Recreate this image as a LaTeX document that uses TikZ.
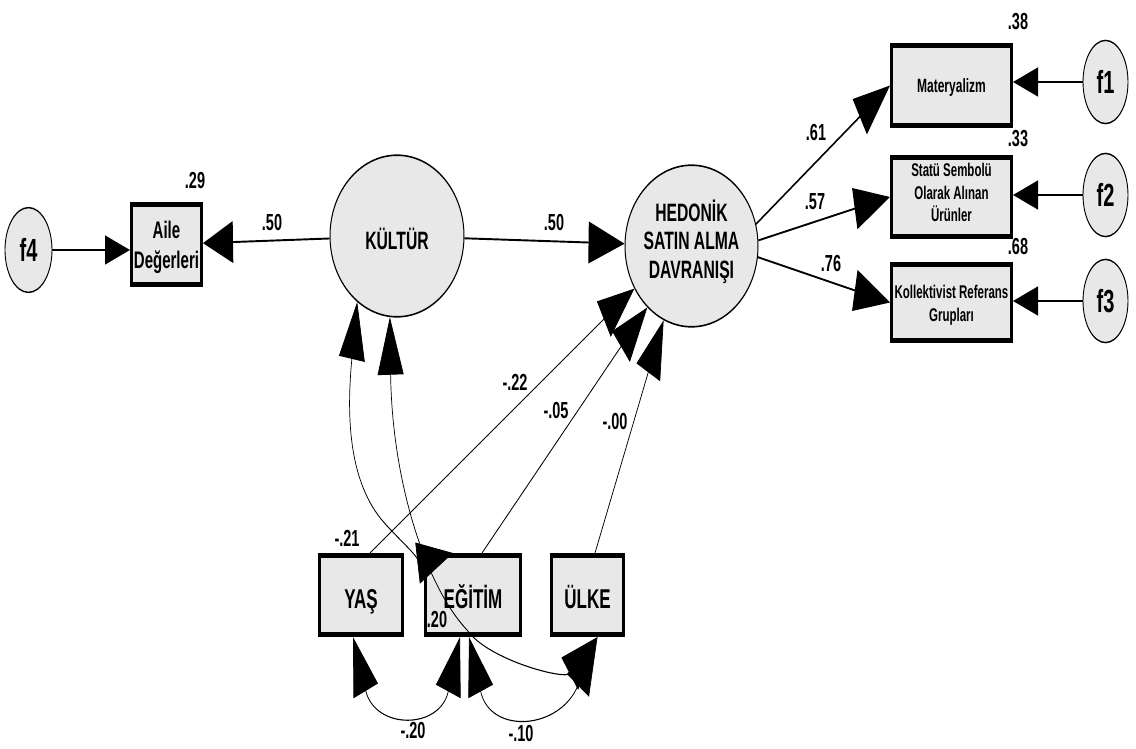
\documentclass[tikz,border=0pt]{standalone}
\usepackage{fontspec}
\setmainfont{Liberation Sans}
\usetikzlibrary{shapes.geometric,arrows.meta}
\definecolor{boxfill}{RGB}{232,232,232}
\tikzset{
  obs/.style={draw=black, line width=3pt, fill=boxfill, inner sep=0pt},
  lat/.style={ellipse, draw=black, line width=1pt, fill=boxfill, inner sep=0pt},
  err/.style={ellipse, draw=black, line width=0.9pt, fill=boxfill, inner sep=0pt,
    minimum width=45pt, minimum height=52pt},
  % text lines are set on their baselines
  txt/.style={anchor=base, inner sep=0pt, font=\bfseries\fontsize{#1}{#1}\selectfont},
  txt/.default=15.7,
  bigtip/.tip={Triangle[length=36pt,width=26pt]},
  midtip/.tip={Triangle[length=30pt,width=26pt]},
  smalltip/.tip={Triangle[length=25pt,width=18pt]},
  mainarrow/.style={line width=1.2pt, -bigtip},
  leftarrow/.style={line width=1.2pt, -midtip},
  thinarrow/.style={line width=0.7pt, -bigtip},
  errarrow/.style={line width=1.2pt, -smalltip},
  corr/.style={line width=0.7pt, bigtip-bigtip},
  coef/.style={txt=14.5},
}
\begin{document}
\begin{tikzpicture}
\useasboundingbox (0pt,0pt) rectangle (1136pt,-749pt);
% the model is drawn in pixel units and stretched vertically
\begin{scope}[transform canvas={yscale=1.6}, x=1pt, y=-0.625pt]
  % latent variables
  \node[lat, minimum width=134pt, minimum height=101pt] (kultur) at (397,236) {};
  \node[lat, minimum width=133pt, minimum height=101pt] (hedonik) at (691.5,246) {};
  \node[txt] (kultur-t) at (397,249) {KÜLTÜR};
  \node[txt] (hedonik-t1) at (691.5,221.7) {HEDONİK};
  \node[txt] (hedonik-t2) at (691.5,250) {SATIN ALMA};
  \node[txt] (hedonik-t3) at (691.5,278.3) {DAVRANIŞI};

  % observed variables
  \node[obs, minimum width=70pt, minimum height=50pt] (aile) at (166.5,244.5) {};
  \node[obs, minimum width=120pt, minimum height=50pt] (mat) at (951.5,85.5) {};
  \node[obs, minimum width=120pt, minimum height=49.5pt] (statu) at (951.5,197) {};
  \node[obs, minimum width=120pt, minimum height=47.6pt] (koll) at (951.5,302.5) {};
  \node[obs, minimum width=83pt, minimum height=49.5pt] (yas) at (361,595) {};
  \node[obs, minimum width=95pt, minimum height=49.5pt] (egitim) at (473,595) {};
  \node[obs, minimum width=72pt, minimum height=49.5pt] (ulke) at (587.5,595) {};

  \node[txt=15] (aile-t1) at (166.5,238.3) {Aile};
  \node[txt=15] (aile-t2) at (166.5,268.3) {Değerleri};
  \node[txt=12] (mat-t) at (951.5,92.5) {Materyalizm};
  \node[txt=11.5] (statu-t1) at (951.5,176.7) {Statü Sembolü};
  \node[txt=11.5] (statu-t2) at (951.5,199.2) {Olarak Alınan};
  \node[txt=11.5] (statu-t3) at (951.5,221.7) {Ürünler};
  \node[txt=11.5] (koll-t1) at (951.5,298.3) {Kollektivist Referans};
  \node[txt=11.5] (koll-t2) at (951.5,321.7) {Grupları};
  \node[txt=17] (yas-t) at (361,608) {YAŞ};
  \node[txt=17] (egitim-t) at (473,608) {EĞİTİM};
  \node[txt=17] (ulke-t) at (587.5,608) {ÜLKE};

  % error terms
  \node[err] (f1) at (1105.5,82) {};
  \node[err] (f2) at (1105.5,195) {};
  \node[err] (f3) at (1105.5,301) {};
  \node[err, minimum width=47pt, minimum height=53pt] (f4) at (28.5,250) {};
  \node[txt=20] (f1-t) at (1105.5,93.5) {f1};
  \node[txt=20] (f2-t) at (1105.5,206.5) {f2};
  \node[txt=20] (f3-t) at (1105.5,312.5) {f3};
  \node[txt=20] (f4-t) at (28.5,261.5) {f4};

  % regression paths
  \draw[errarrow] (f4) -- (f4 -| aile.west);
  \draw[leftarrow] (kultur) -- (aile);
  \draw[mainarrow] (kultur) -- (hedonik);
  \draw[mainarrow] (hedonik.12) -- (mat.west);
  \draw[mainarrow] (hedonik.3) -- (statu.west);
  \draw[mainarrow] (hedonik.-6) -- (koll.west);
  \draw[errarrow] (f1) -- (f1 -| mat.east);
  \draw[errarrow] (f2) -- (f2 -| statu.east);
  \draw[errarrow] (f3) -- (f3 -| koll.east);
  \draw[thinarrow] ([xshift=9pt]yas.north) -- (hedonik.205);
  \draw[thinarrow] ([xshift=9pt]egitim.north) -- (hedonik.221);
  \draw[thinarrow] ([xshift=7.5pt]ulke.north) -- (hedonik.239);

  % covariances
  \draw[corr] (kultur.226) .. controls (348,400) and (345,470) .. (378,515)
    .. controls (390,532) and (425,561) .. ([xshift=-20pt]egitim.north);
  \draw[corr] (kultur.262) .. controls (392,480) and (425,585) .. (467,630)
    .. controls (488,660) and (565,680) .. ([xshift=10pt]ulke.south);
  \draw[corr] ([xshift=-8pt]yas.south) .. controls (375,730) and (440,730)
    .. ([xshift=-13pt]egitim.south);
  \draw[corr] ([xshift=-4pt]egitim.south) .. controls (490,735) and (560,730)
    .. ([xshift=10pt]ulke.south);

  % estimates (baselines)
  \node[coef] (e29) at (195,188.5) {.29};
  \node[coef] (e50a) at (272,230.5) {.50};
  \node[coef] (e50b) at (554,230.5) {.50};
  \node[coef] (e61) at (816,140.5) {.61};
  \node[coef] (e57) at (815,209.5) {.57};
  \node[coef] (e76) at (831,271.5) {.76};
  \node[coef] (e38) at (1018,29.5) {.38};
  \node[coef] (e33) at (1018,146.5) {.33};
  \node[coef] (e68) at (1018,254.5) {.68};
  \node[coef] (e21) at (347,546.5) {-.21};
  \node[coef] (e20) at (437,627.5) {.20};
  \node[coef] (e22) at (515,390.5) {-.22};
  \node[coef] (e05) at (556,418.5) {-.05};
  \node[coef] (e00) at (615,429.5) {-.00};
  \node[coef] (em20) at (413,738.5) {-.20};
  \node[coef] (em10) at (521,741.5) {-.10};
\end{scope}
\end{tikzpicture}
\end{document}
